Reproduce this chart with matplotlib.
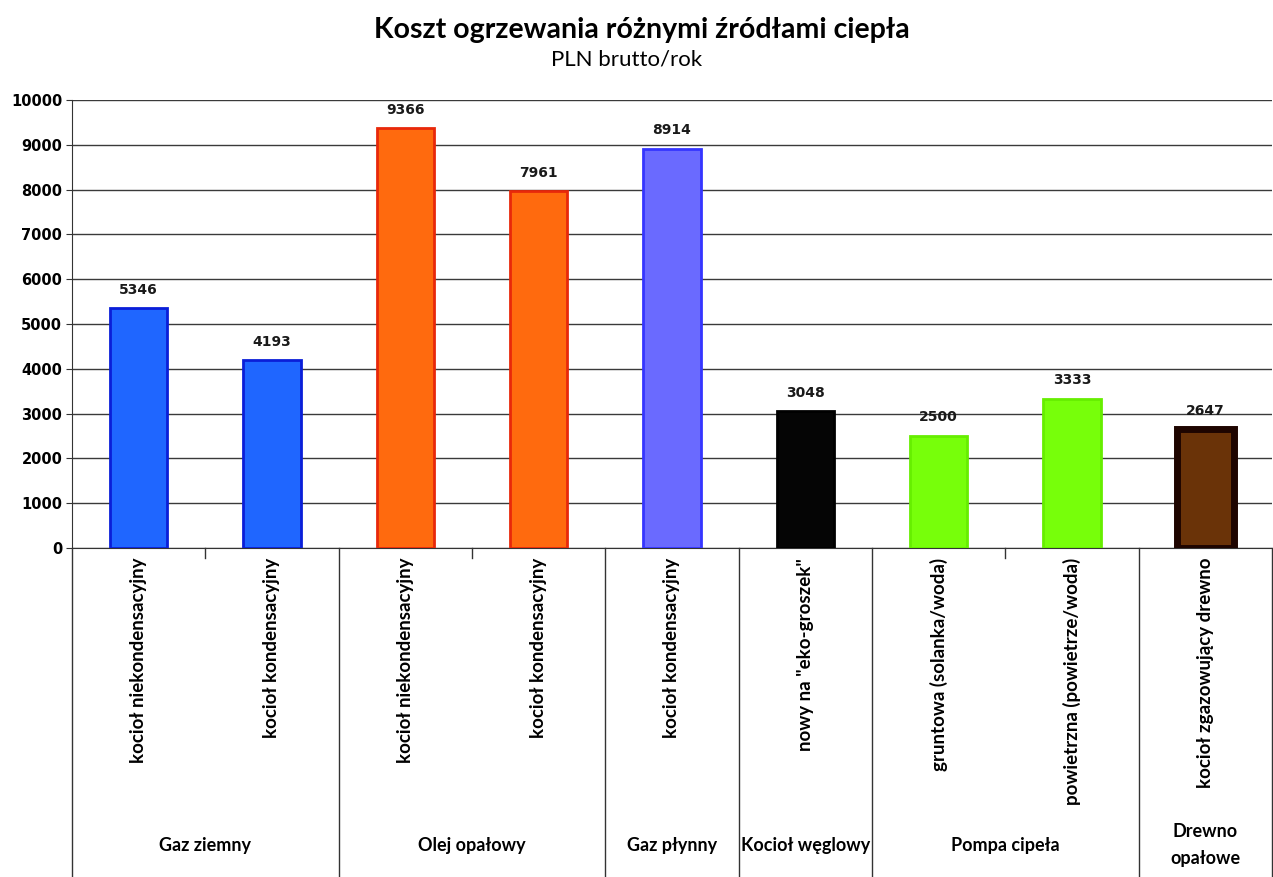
import numpy as np
import matplotlib
matplotlib.use('Agg')
import matplotlib.pyplot as plt
import matplotlib.transforms as mtransforms

categories = ['kocioł niekondensacyjny', 'kocioł kondensacyjny',
              'kocioł niekondensacyjny', 'kocioł kondensacyjny',
              'kocioł kondensacyjny', 'nowy na "eko-groszek"',
              'gruntowa (solanka/woda)', 'powietrzna (powietrze/woda)',
              'kocioł zgazowujący drewno']
values = [5346, 4193, 9366, 7961, 8914, 3048, 2500, 3333, 2647]
groups = ['Gaz ziemny', 'Olej opałowy', 'Gaz płynny', 'Kocioł węglowy',
          'Pompa cipeła', 'Drewno\nopałowe']
group_sizes = [2, 2, 1, 1, 2, 1]

fill_colors = ['#1f66ff', '#1f66ff', '#ff6a0e', '#ff6a0e', '#6a6aff',
               '#050505', '#77ff0a', '#77ff0a', '#6a3308']
edge_colors = ['#0a1ed8', '#0a1ed8', '#e8280a', '#e8280a', '#3535ff',
               '#000000', '#66ee00', '#66ee00', '#1e0500']
edge_widths = [2, 2, 2, 2, 2, 2, 2, 2, 5]

W, H = 1273, 877
fig = plt.figure(figsize=(W / 100, H / 100), dpi=100)
ax = fig.add_axes([72 / W, (H - 548) / H, 1200 / W, 448 / H])

x = np.arange(len(values))
ax.bar(x, values, width=0.43, color=fill_colors, edgecolor=edge_colors,
       linewidth=edge_widths, zorder=3)

for xi, v in zip(x, values):
    ax.text(xi, v + 260, str(v), ha='center', va='bottom', fontsize=10,
            fontweight='bold', family='DejaVu Sans', color='#1a1a1a', zorder=4)

ax.set_xlim(-0.5, len(values) - 0.5)
ax.set_ylim(0, 10000)
ax.set_yticks(np.arange(0, 10001, 1000))
ax.yaxis.grid(True, color='#3a3a3a', linewidth=1)
ax.set_axisbelow(True)
for lbl in ax.get_yticklabels():
    lbl.set_fontweight('bold')
ax.tick_params(axis='y', labelsize=10.5, length=4, color='#333333', pad=3)

ax.set_xticks(x)
ax.set_xticklabels(categories, rotation=90, va='top', ha='center',
                   family='Lato', fontweight='bold', fontsize=13.5)
ax.tick_params(axis='x', length=0, pad=7)

for s in ['top', 'right']:
    ax.spines[s].set_visible(False)
ax.spines['left'].set_color('#333333')
ax.spines['bottom'].set_color('#333333')

# separators and group labels below the axis
trans = mtransforms.blended_transform_factory(ax.transData, ax.transAxes)
y_bottom = -(H - 548) / 448
ax.plot([-0.5, -0.5], [0, y_bottom], transform=trans, clip_on=False,
        color='#333333', lw=1)
start = 0
for name, n in zip(groups, group_sizes):
    end = start + n
    ax.plot([end - 0.5, end - 0.5], [0, y_bottom], transform=trans,
            clip_on=False, color='#333333', lw=1)
    for k in range(start + 1, end):
        ax.plot([k - 0.5, k - 0.5], [0, -10 / 448], transform=trans,
                clip_on=False, color='#333333', lw=1)
    ax.text((start + end - 1) / 2, -(845 - 548) / 448, name, transform=trans,
            ha='center', va='center', family='Lato', fontweight='bold',
            fontsize=13, linespacing=1.65)
    start = end

fig.text(0.504, 1 - 30 / H, 'Koszt ogrzewania różnymi źródłami ciepła',
         ha='center', va='center', family='Lato', fontweight='bold',
         fontsize=20.5)
fig.text(0.492, 1 - 59 / H, 'PLN brutto/rok', ha='center', va='center',
         family='Lato', fontsize=16)

fig.savefig('out.png', dpi=100)
